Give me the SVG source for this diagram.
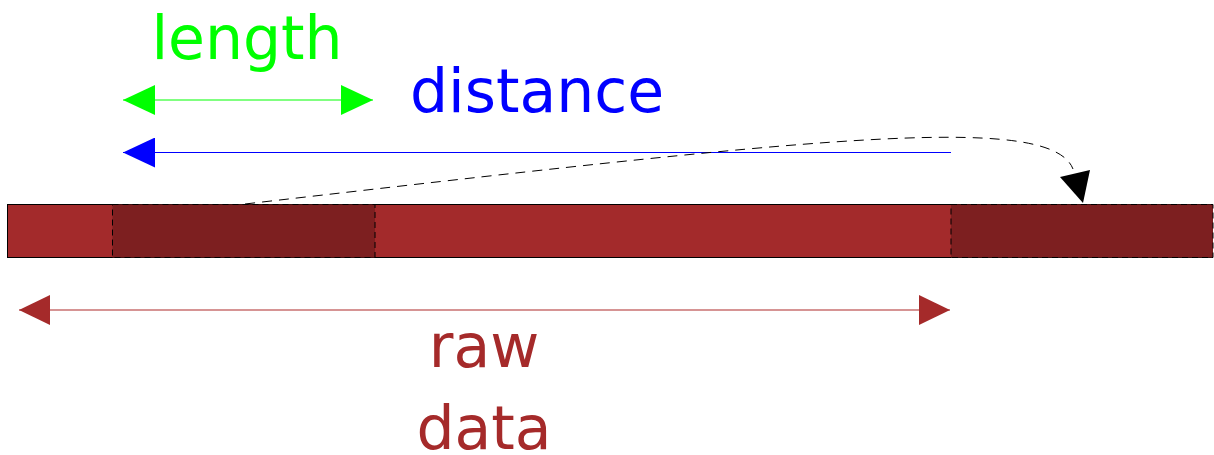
<svg xmlns="http://www.w3.org/2000/svg" width="1214" height="455" viewBox="0 0 1214 455">
  <style>
    .seg { fill: #A32A2B; stroke: #000; stroke-width: 1; }
    .win { fill: #7D1F20; stroke: #000; stroke-width: 1; stroke-dasharray: 6 4; }
    .lbl { font-family: "DejaVu Sans", sans-serif; font-size: 60px; text-anchor: middle; }
  </style>
  <defs>
    <marker id="hg" viewBox="0 0 32 30" refX="32" refY="15" markerWidth="32" markerHeight="30" markerUnits="userSpaceOnUse" orient="auto-start-reverse">
      <path d="M0,0 L32,15 L0,30 Z" fill="#00FF00"/>
    </marker>
    <marker id="hb" viewBox="0 0 32 30" refX="32" refY="15" markerWidth="32" markerHeight="30" markerUnits="userSpaceOnUse" orient="auto-start-reverse">
      <path d="M0,0 L32,15 L0,30 Z" fill="#0000FF"/>
    </marker>
    <marker id="hr" viewBox="0 0 31 30" refX="31" refY="15" markerWidth="31" markerHeight="30" markerUnits="userSpaceOnUse" orient="auto-start-reverse">
      <path d="M0,0 L31,15 L0,30 Z" fill="#A52A2A"/>
    </marker>
  </defs>

  <!-- data buffer -->
  <g id="buffer">
    <rect class="seg" x="7.5" y="204.5" width="1205" height="53"/>
    <rect class="win" x="112.5" y="204.5" width="262.5" height="53"/>
    <rect class="win" x="951" y="204.5" width="262" height="53"/>
  </g>

  <g id="connectors">
    <line x1="123" y1="100" x2="373" y2="100" stroke="#80FF80" stroke-width="2" marker-start="url(#hg)" marker-end="url(#hg)"/>
    <line x1="951" y1="152.5" x2="123" y2="152.5" stroke="#0000FF" stroke-width="1" marker-end="url(#hb)"/>
    <line x1="19" y1="310" x2="950" y2="310" stroke="#C87070" stroke-width="1.5" marker-start="url(#hr)" marker-end="url(#hr)"/>
    <path d="M245,204 C800,140 1050,110 1073,169" fill="none" stroke="#000" stroke-width="1" stroke-dasharray="10 7"/>
    <path d="M1060,177 L1090,170 L1083,203 Z" fill="#000"/>
  </g>

  <g id="label-length"><text class="lbl" x="247" y="59" fill="#00FF00">length</text></g>
  <g id="label-distance"><text class="lbl" x="537" y="112" fill="#0000FF">distance</text></g>
  <g id="label-raw"><text class="lbl" x="484" y="367" fill="#A52A2A">raw</text>
    <text class="lbl" x="484" y="449" fill="#A52A2A">data</text></g>
</svg>
